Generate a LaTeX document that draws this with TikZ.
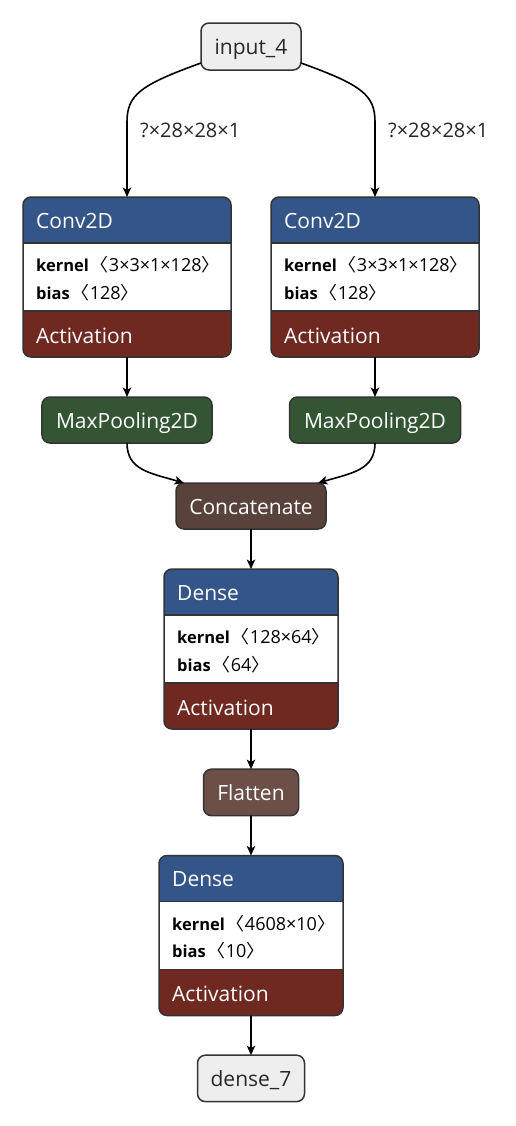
\documentclass[tikz,border=0pt]{standalone}
\usepackage{fontspec}
\setmainfont{Open Sans}
\newfontfamily\cjk{Noto Sans CJK SC}
\usetikzlibrary{arrows.meta}
\definecolor{layerblue}{RGB}{51,85,136}
\definecolor{actred}{RGB}{112,41,33}
\definecolor{poolgreen}{RGB}{51,85,51}
\definecolor{tensorbrown}{RGB}{89,66,59}
\definecolor{shapebrown}{RGB}{108,79,71}
\definecolor{ionode}{RGB}{238,238,238}
\definecolor{bordergray}{RGB}{51,51,51}
\definecolor{labelgray}{RGB}{40,40,40}

\tikzset{
  box/.style={draw=bordergray, line width=1.5bp, rounded corners=8bp, inner sep=0pt, outer sep=0pt,
    font=\fontsize{21bp}{25bp}\selectfont, text height=16bp, text depth=-2bp},
  iobox/.style={box, fill=ionode, text=labelgray},
  poolbox/.style={box, fill=poolgreen, text=white},
  tensorbox/.style={box, fill=tensorbrown, text=white},
  shapebox/.style={box, fill=shapebrown, text=white},
  frame/.style={inner sep=0pt, outer sep=0pt, draw=none},
  sepline/.style={draw=bordergray, line width=1.2bp},
  outline/.style={draw=bordergray, line width=1.5bp, rounded corners=8bp},
  titletext/.style={anchor=base west, inner sep=0pt, text=white, font=\fontsize{21bp}{25bp}\selectfont},
  attrtext/.style={anchor=base west, inner sep=0pt, text=black, font=\fontsize{18bp}{21bp}\selectfont},
  shapelbl/.style={anchor=base west, inner sep=0pt, text=labelgray, font=\fontsize{20bp}{23bp}\selectfont},
  flow/.style={draw=black, line width=1.6bp, -{Stealth[length=9.5bp,width=8.5bp,inset=2.5bp]}},
}

\newcommand\attrname[1]{{\bfseries\fontsize{16.5bp}{20bp}\selectfont #1}\hspace{2bp}}
\newcommand\lbr{{\cjk 〈}}
\newcommand\rbr{{\cjk 〉}}

% #1 name, #2 left x, #3 top y, #4 width, #5 title, #6 kernel, #7 bias
\newcommand\mylayer[7]{%
  \node[frame, minimum width=#4bp, minimum height=160bp, anchor=north west] (#1) at (#2,#3) {};
  \begin{scope}
    \clip[rounded corners=8bp] (#1.south west) rectangle (#1.north east);
    \fill[white] (#1.south west) rectangle (#1.north east);
    \fill[layerblue] (#1.north west) rectangle ([yshift=-46bp]#1.north east);
    \fill[actred] (#1.south west) rectangle ([yshift=46bp]#1.south east);
  \end{scope}
  \draw[sepline] ([yshift=-46bp]#1.north west) -- ([yshift=-46bp]#1.north east);
  \draw[sepline] ([yshift=46bp]#1.south west) -- ([yshift=46bp]#1.south east);
  \draw[outline] (#1.south west) rectangle (#1.north east);
  \node[titletext] (#1-title) at ([shift={(13bp,-31bp)}]#1.north west) {#5};
  \node[attrtext] (#1-kernel) at ([shift={(13bp,-74.5bp)}]#1.north west) {\attrname{kernel}\lbr #6\rbr};
  \node[attrtext] (#1-bias) at ([shift={(13bp,-102bp)}]#1.north west) {\attrname{bias}\lbr #7\rbr};
  \node[titletext] (#1-act) at ([shift={(13bp,-146bp)}]#1.north west) {Activation};
}

\begin{document}
\begin{tikzpicture}[x=1bp, y=-1bp]
  \useasboundingbox (0,0) rectangle (516,1126);

  \node[iobox, minimum width=100bp, minimum height=47bp] (in) at (251,46.5) {input\_4};

  \mylayer{convA}{23}{197}{208}{Conv2D}{3×3×1×128}{128}
  \mylayer{convB}{271}{197}{208}{Conv2D}{3×3×1×128}{128}

  \node[poolbox, minimum width=170bp, minimum height=46bp] (poolA) at (127,420) {MaxPooling2D};
  \node[poolbox, minimum width=171bp, minimum height=46bp] (poolB) at (375,420) {MaxPooling2D};

  \node[tensorbox, minimum width=150bp, minimum height=46bp] (cat) at (251,506) {Concatenate};

  \mylayer{denseA}{164}{569}{174}{Dense}{128×64}{64}

  \node[shapebox, minimum width=95bp, minimum height=46.5bp] (flat) at (251,792.4) {Flatten};

  \mylayer{denseB}{159}{855.5}{184}{Dense}{4608×10}{10}

  \node[iobox, minimum width=107bp, minimum height=46.5bp] (out) at (251,1078.4) {dense\_7};

  % edges
  \draw[flow] ([yshift=7bp]in.south west) .. controls (140,85) and (127,95) .. (127,122) -- (convA.north);
  \draw[flow] ([yshift=7bp]in.south east) .. controls (362,85) and (375,95) .. (375,122) -- (convB.north);
  \node[shapelbl] (lblA) at (140,137.7) {?×28×28×1};
  \node[shapelbl] (lblB) at (388,137.7) {?×28×28×1};

  \draw[flow] (convA.south) -- (poolA.north);
  \draw[flow] (convB.south) -- (poolB.north);

  \draw[flow] (poolA.south) .. controls (127,470) and (150,473) .. ([xshift=8bp]cat.north west);
  \draw[flow] (poolB.south) .. controls (375,470) and (352,473) .. ([xshift=-8bp]cat.north east);

  \draw[flow] (cat.south) -- (denseA.north);
  \draw[flow] (denseA.south) -- (flat.north);
  \draw[flow] (flat.south) -- (denseB.north);
  \draw[flow] (denseB.south) -- (out.north);
\end{tikzpicture}
\end{document}
